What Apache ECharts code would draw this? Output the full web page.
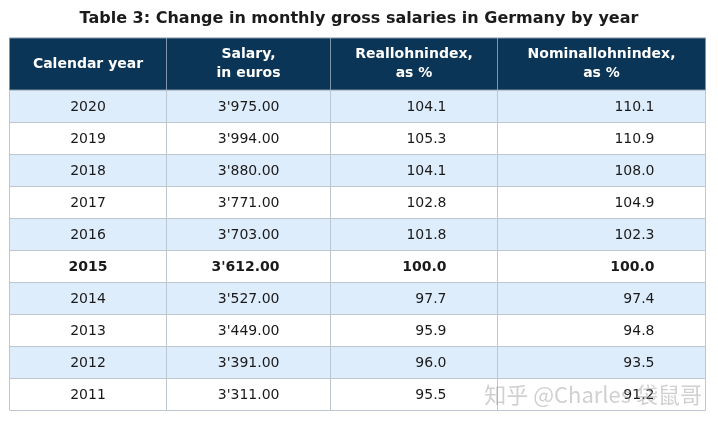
<!DOCTYPE html>
<html>
<head>
<meta charset="utf-8">
<script src="https://cdn.jsdelivr.net/npm/echarts@6/dist/echarts.min.js"></script>
<style>
  html, body { margin: 0; padding: 0; background: #fff; }
  #chart { width: 718px; height: 421px; }
</style>
</head>
<body>
<div id="chart"></div>
<script>
// 表格数据
const headers = ['Calendar year', 'Salary,\nin euros', 'Reallohnindex,\nas %', 'Nominallohnindex,\nas %'];
const years = ['2020', '2019', '2018', '2017', '2016', '2015', '2014', '2013', '2012', '2011'];
const salaries = [3975, 3994, 3880, 3771, 3703, 3612, 3527, 3449, 3391, 3311];
const realIndex = [104.1, 105.3, 104.1, 102.8, 101.8, 100.0, 97.7, 95.9, 96.0, 95.5];
const nominalIndex = [110.1, 110.9, 108.0, 104.9, 102.3, 100.0, 97.4, 94.8, 93.5, 91.2];
const baseYear = '2015';

// 列宽（布局用）
const colEdges = [0, 157, 321, 488, 696];
const font = 'DejaVu Sans, Verdana, sans-serif';

const fmtSalary = (n) => n.toFixed(2).replace(/\B(?=(\d{3})+(?!\d))/g, "'");

const cellText = (c, r) => {
  if (c === 0) return years[r];
  if (c === 1) return fmtSalary(salaries[r]);
  if (c === 2) return realIndex[r].toFixed(1);
  return nominalIndex[r].toFixed(1);
};

const bodyData = [];
years.forEach((y, r) => {
  for (let c = 0; c < 4; c++) bodyData.push([c, r]);
});
const headData = headers.map((h, c) => [c, 0]);

const chart = echarts.init(document.getElementById('chart'));

function cellBox(api, c, r) {
  const x0 = api.coord([colEdges[c], r])[0];
  const x1 = api.coord([colEdges[c + 1], r])[0];
  const cy = api.coord([colEdges[c], r])[1];
  const h = api.size([0, 1])[1];
  return { x0: Math.round(x0) + 0.5, x1: Math.round(x1) + 0.5, cy: cy, h: h };
}

chart.setOption({
  animation: false,
  title: {
    text: 'Table 3: Change in monthly gross salaries in Germany by year',
    left: 'center',
    top: 6,
    textStyle: { fontFamily: font, fontSize: 16, fontWeight: 'bold', color: '#1b1b1b' }
  },
  grid: [
    { left: 9, top: 38, width: 696, height: 52 },
    { left: 9, top: 90, width: 696, height: 320 }
  ],
  xAxis: [
    { type: 'value', gridIndex: 0, min: 0, max: 696, show: false },
    { type: 'value', gridIndex: 1, min: 0, max: 696, show: false }
  ],
  yAxis: [
    { type: 'category', gridIndex: 0, data: ['head'], show: false },
    { type: 'category', gridIndex: 1, data: years, inverse: true, show: false }
  ],
  series: [
    {
      type: 'custom',
      xAxisIndex: 0,
      yAxisIndex: 0,
      data: headData,
      renderItem: (params, api) => {
        const c = api.value(0);
        const b = cellBox(api, c, 0);
        return {
          type: 'group',
          children: [
            {
              type: 'rect',
              shape: { x: b.x0, y: b.cy - b.h / 2, width: b.x1 - b.x0, height: b.h },
              style: { fill: '#0b3556', stroke: '#7f94a8', lineWidth: 1 }
            },
            {
              type: 'text',
              style: {
                x: (b.x0 + b.x1) / 2,
                y: b.cy,
                text: headers[c],
                align: 'center',
                verticalAlign: 'middle',
                fill: '#ffffff',
                font: 'bold 14px ' + font,
                lineHeight: 19
              }
            }
          ]
        };
      }
    },
    {
      type: 'custom',
      xAxisIndex: 1,
      yAxisIndex: 1,
      data: bodyData,
      renderItem: (params, api) => {
        const c = api.value(0);
        const r = api.value(1);
        const b = cellBox(api, c, r);
        const bold = years[r] === baseYear;
        return {
          type: 'group',
          children: [
            {
              type: 'rect',
              shape: { x: b.x0, y: Math.round(b.cy - b.h / 2) + 0.5, width: b.x1 - b.x0, height: b.h },
              style: { fill: r % 2 === 0 ? '#deedfb' : '#ffffff', stroke: '#bcc6d0', lineWidth: 1 }
            },
            {
              type: 'text',
              style: {
                x: c === 0 ? (b.x0 + b.x1) / 2 : b.x1 - 51,
                y: b.cy + 1,
                text: cellText(c, r),
                align: c === 0 ? 'center' : 'right',
                verticalAlign: 'middle',
                fill: '#1a1a1a',
                font: (bold ? 'bold ' : '') + '14px ' + font
              }
            }
          ]
        };
      }
    }
  ],
  graphic: [
    {
      type: 'text',
      right: 16,
      bottom: 15,
      z: 100,
      style: {
        text: '知乎 @Charles 袋鼠哥',
        font: '22px "Noto Sans CJK SC", sans-serif',
        fill: 'rgba(150,150,150,0.45)'
      }
    }
  ]
});
</script>
</body>
</html>
